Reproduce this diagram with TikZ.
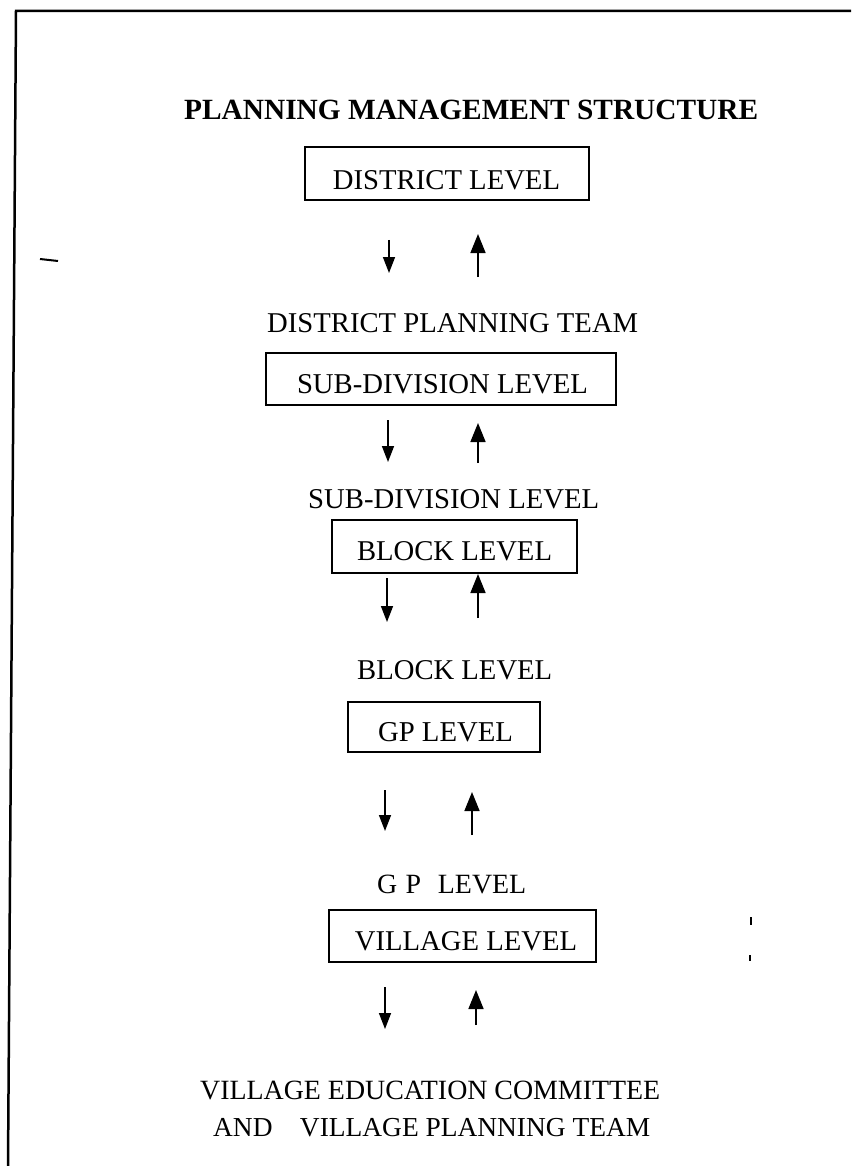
\documentclass[tikz,border=0pt]{standalone}
\usepackage{fontspec}
\setmainfont{Liberation Serif}
\usepackage{graphicx}
\usetikzlibrary{arrows.meta}
\newcommand{\fitw}[2]{\resizebox{#1pt}{!}{#2}}
\begin{document}
\begin{tikzpicture}[x=1pt,y=-1pt,
  lvlbox/.style={draw, line width=1.1pt, inner sep=0pt},
  lbl/.style={inner sep=0pt, anchor=west},
  boxtxt/.style={inner sep=0pt},
  downarr/.style={line width=1.5pt, -{Triangle[length=16pt,width=12pt]}},
  uparr/.style={line width=1.6pt, -{Triangle[length=19pt,width=15pt]}},
  framepen/.style={line width=2.5pt},
  speck/.style={line width=2pt}]
\useasboundingbox (0,0) rectangle (851,1166);
% page frame
\coordinate (fTR) at (851,11);
\coordinate (fTL) at (16,11);
\coordinate (fBL) at (8,1166);
\draw[framepen] (fTR) -- (fTL) -- (fBL);
% scan specks
\coordinate (sk1) at (40,259); \coordinate (sk2) at (58,261);
\draw[speck] (sk1) -- (sk2);
\coordinate (sk3) at (751,917); \coordinate (sk4) at (751,925);
\draw[speck] (sk3) -- (sk4);
\coordinate (sk5) at (750,955); \coordinate (sk6) at (750,961);
\draw[speck] (sk5) -- (sk6);

% title
\node[lbl] (title) at (184,110) {\fitw{574}{\bfseries PLANNING MANAGEMENT STRUCTURE}};

% district level
\node[lvlbox, minimum width=284pt, minimum height=53pt] (b1) at (447,173.5) {};
\node[boxtxt] (t1) at (446.5,180) {\fitw{227}{DISTRICT LEVEL}};

\coordinate (a1s) at (389,240); \coordinate (a1e) at (389,273);
\coordinate (u1s) at (478,277); \coordinate (u1e) at (478,234);
\draw[downarr] (a1s) -- (a1e);
\draw[uparr] (u1s) -- (u1e);

\node[lbl] (l1) at (267,323) {\fitw{371}{DISTRICT PLANNING TEAM}};

% sub-division level
\node[lvlbox, minimum width=350pt, minimum height=52pt] (b2) at (441,379) {};
\node[boxtxt] (t2) at (442.5,384) {\fitw{291}{SUB-DIVISION LEVEL}};

\coordinate (a2s) at (388,420); \coordinate (a2e) at (388,462);
\coordinate (u2s) at (478,463); \coordinate (u2e) at (478,423);
\draw[downarr] (a2s) -- (a2e);
\draw[uparr] (u2s) -- (u2e);

\node[lbl] (l2) at (308,499) {\fitw{291}{SUB-DIVISION LEVEL}};

% block level
\node[lvlbox, minimum width=245pt, minimum height=53pt] (b3) at (454.5,546.5) {};
\node[boxtxt] (t3) at (454.5,551) {\fitw{195}{BLOCK LEVEL}};

\coordinate (a3s) at (387,578); \coordinate (a3e) at (387,622);
\coordinate (u3s) at (478,618); \coordinate (u3e) at (478,574);
\draw[downarr] (a3s) -- (a3e);
\draw[uparr] (u3s) -- (u3e);

\node[lbl] (l3) at (357,670) {\fitw{195}{BLOCK LEVEL}};

% GP level
\node[lvlbox, minimum width=192pt, minimum height=50pt] (b4) at (444,727) {};
\node[boxtxt] (t4) at (445.5,732) {\fitw{135}{GP LEVEL}};

\coordinate (a4s) at (385,790); \coordinate (a4e) at (385,831);
\coordinate (u4s) at (472,835); \coordinate (u4e) at (472,792);
\draw[downarr] (a4s) -- (a4e);
\draw[uparr] (u4s) -- (u4e);

\node[lbl] (l4) at (377,884) {\fitw{149}{G\hspace{0.3em}P\hspace{0.6em}LEVEL}};

% village level
\node[lvlbox, minimum width=267pt, minimum height=52pt] (b5) at (462.5,936) {};
\node[boxtxt] (t5) at (466,941) {\fitw{222}{VILLAGE LEVEL}};

\coordinate (a5s) at (385,987); \coordinate (a5e) at (385,1029);
\coordinate (u5s) at (476,1025); \coordinate (u5e) at (476,990);
\draw[downarr] (a5s) -- (a5e);
\draw[uparr] (u5s) -- (u5e);

\node[lbl] (l5) at (200,1090) {\fitw{460}{VILLAGE EDUCATION COMMITTEE}};
\node[lbl] (l6) at (213,1128) {\fitw{437}{AND\hspace{1em}VILLAGE PLANNING TEAM}};
\end{tikzpicture}
\end{document}
